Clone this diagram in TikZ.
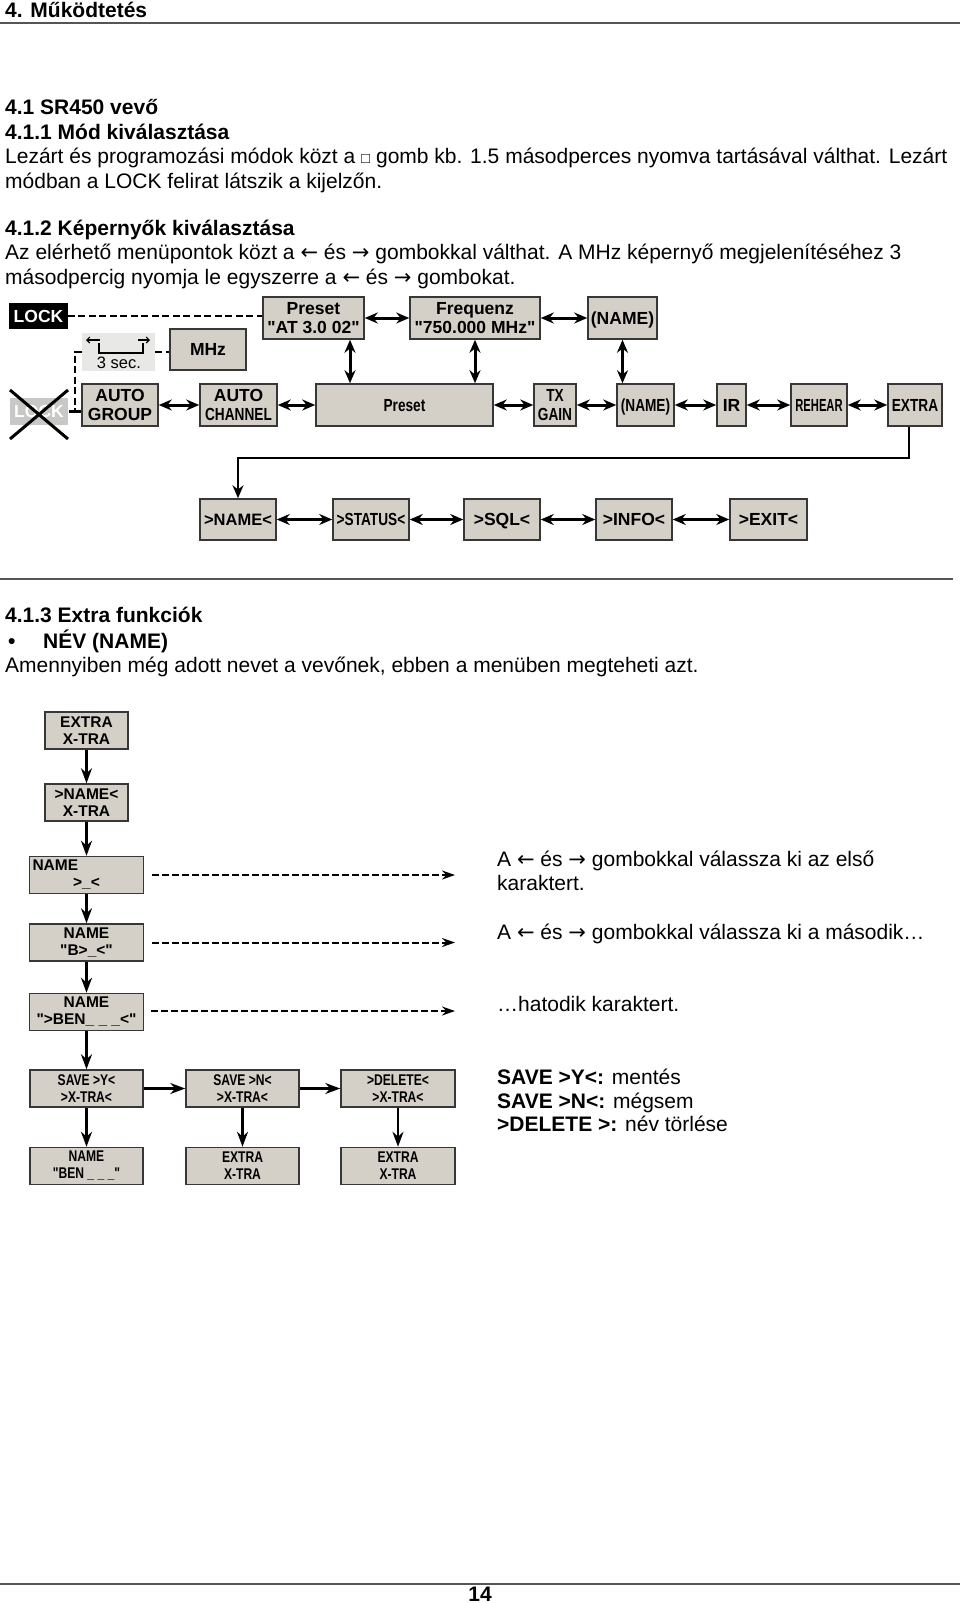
\documentclass[tikz,border=0pt]{standalone}
\usepackage{fontspec}
\setmainfont{Liberation Sans}
\newfontfamily\plainfont{Liberation Sans}
\newfontfamily\narrowfont[FakeStretch=0.78]{Liberation Sans}
\newfontfamily\narrowerfont[FakeStretch=0.64]{Liberation Sans}
\newfontfamily\arrowfont{DejaVu Sans}
\newcommand{\leftkey}{{\arrowfont ←}}
\newcommand{\rightkey}{{\arrowfont →}}
\usetikzlibrary{arrows.meta}
\definecolor{panel}{RGB}{212,208,200}
\definecolor{panelline}{RGB}{55,55,55}
\definecolor{faded}{RGB}{200,200,198}
\definecolor{hint}{RGB}{232,232,230}
\definecolor{rule}{RGB}{85,85,85}

\begin{document}
\begin{tikzpicture}[x=1pt,y=-1pt,>={Stealth[length=13pt,width=11pt]},
                    font=\fontsize{21}{24.5}\selectfont]
  \tikzstyle{txt}=[anchor=base west,inner sep=0pt]
  \tikzstyle{head}=[txt,font=\fontsize{21}{24.5}\selectfont\bfseries]
  \tikzstyle{box}=[rectangle,fill=panel,draw=panelline,line width=1.5pt,
    align=center,inner sep=1pt,font=\plainfont\fontsize{17.5}{19.5}\selectfont\bfseries]
  \tikzstyle{nbox}=[box,font=\narrowfont\fontsize{17.5}{19.5}\selectfont\bfseries]
  \tikzstyle{one}=[text height=12.5pt,text depth=0pt]
  \tikzstyle{sbox}=[box,minimum height=37pt,font=\plainfont\fontsize{15.5}{17}\selectfont\bfseries]
  \tikzstyle{snbox}=[sbox,font=\narrowfont\fontsize{15.5}{17}\selectfont\bfseries]
  \tikzstyle{dbl}=[<->,line width=3pt]
  \tikzstyle{dashline}=[line width=2.2pt,dash pattern=on 7pt off 3.5pt]
  \tikzstyle{flow}=[->,line width=2.2pt,>={Stealth[length=15pt,width=11pt]}]
  \tikzstyle{dflow}=[->,line width=2pt,dash pattern=on 7pt off 3pt,
    >={Stealth[length=13pt,width=9pt]}]

  \fill[white] (0,0) rectangle (960,1603);
  \useasboundingbox (0,0) rectangle (960,1603);

  % page text
  \node[head] (ttl)  at (5,17.5) {4. Működtetés};
  \draw[rule,line width=2pt] (0,23) -- (960,23);
  \node[head] (h41)  at (5,114) {4.1 SR450 vevő};
  \node[head] (h411) at (5,139) {4.1.1 Mód kiválasztása};
  \node[txt]  (p1a)  at (5,163.5) {Lezárt és programozási módok közt a {\fontsize{15}{15}\selectfont □} gomb kb. 1.5 másodperces nyomva tartásával válthat. Lezárt};
  \node[txt]  (p1b)  at (5,188) {módban a LOCK felirat látszik a kijelzőn.};
  \node[head] (h412) at (5,235) {4.1.2 Képernyők kiválasztása};
  \node[txt]  (p2a)  at (5,259.5) {Az elérhető menüpontok közt a \leftkey{} és \rightkey{} gombokkal válthat. A MHz képernyő megjelenítéséhez 3};
  \node[txt]  (p2b)  at (5,284) {másodpercig nyomja le egyszerre a \leftkey{} és \rightkey{} gombokat.};

  % screens
  \node[box,one,fill=black,draw=black,text=white,minimum width=57pt,minimum height=24pt] (lock) at (38.5,316) {LOCK};
  \node[box,minimum width=101pt,minimum height=42pt] (preA)  at (313.5,318) {Preset\\"AT 3.0 02"};
  \node[box,minimum width=130pt,minimum height=42pt] (freq)  at (475,318) {Frequenz\\"750.000 MHz"};
  \node[box,one,minimum width=69pt,minimum height=42pt]  (nameA) at (622.5,318) {(NAME)};
  \node[box,one,minimum width=76pt,minimum height=41pt]  (mhz)   at (208,349.5) {MHz};
  \node[rectangle,fill=hint,minimum width=73pt,minimum height=38pt] (sec3) at (118.5,352) {};
  \node[anchor=base,inner sep=0pt,font=\plainfont\fontsize{16.5}{18}\selectfont] (secl) at (119,368) {3 sec.};
  \draw[line width=1.8pt] (99,343) -- (99,353) -- (143,353) -- (143,343);
  \draw[-{Straight Barb[length=3pt,width=6pt]},line width=1.1pt] (100,340) -- (86,340);
  \draw[-{Straight Barb[length=3pt,width=6pt]},line width=1.1pt] (138,340) -- (150,340);

  \node[box,one,fill=faded,draw=none,text=white,minimum width=58pt,minimum height=27pt] (lockx) at (39,411.5) {LOCK};
  \draw[line width=3pt] (10,390) -- (68,439) (68,390) -- (10,439);

  \node[box,minimum width=76pt,minimum height=42pt]    (agrp)   at (120,405) {AUTO\\GROUP};
  \node[box,minimum width=77pt,minimum height=42pt]    (achn)   at (238.5,405) {AUTO\\{\narrowfont CHANNEL}};
  \node[nbox,one,minimum width=177pt,minimum height=42pt]  (preB)   at (404.5,405) {Preset};
  \node[nbox,minimum width=42pt,minimum height=42pt]   (txg)    at (555,405) {TX\\GAIN};
  \node[nbox,one,minimum width=57pt,minimum height=42pt]   (nameB)  at (645.5,405) {(NAME)};
  \node[box,one,minimum width=29pt,minimum height=42pt]    (ir)     at (731.5,405) {IR};
  \node[nbox,one,font=\narrowerfont\fontsize{17.5}{19.5}\selectfont\bfseries,
        minimum width=56pt,minimum height=42pt]        (rehear) at (819,405) {REHEAR};
  \node[nbox,one,minimum width=54pt,minimum height=42pt]   (extra)  at (915,405) {EXTRA};

  \node[box,one,font=\plainfont\fontsize{16.5}{19.5}\selectfont\bfseries,
        minimum width=76pt,minimum height=41pt] (nmS) at (238,519.5) {>NAME<};
  \node[nbox,one,minimum width=76pt,minimum height=41pt] (stS) at (371,519.5) {>STATUS<};
  \node[box,one,minimum width=76pt,minimum height=41pt]  (sqS) at (502,519.5) {>SQL<};
  \node[box,one,minimum width=76pt,minimum height=41pt]  (inS) at (634,519.5) {>INFO<};
  \node[box,one,minimum width=77pt,minimum height=41pt]  (exS) at (768.5,519.5) {>EXIT<};

  \coordinate (jn) at (75,411);
  \coordinate (bend) at (238,458);

  \draw[dashline] (lock.east) -- (lock.east -| preA.west);
  \draw[dashline] (sec3.east) -- (sec3.east -| mhz.west);
  \draw[dashline] (sec3.west) -| (jn);
  \draw[line width=2.2pt] (lockx.east) -- (lockx.east -| agrp.west);
  \draw[dbl] (preA) edge (freq)
             (freq) edge (nameA);
  \draw[dbl] (agrp) edge (achn)
             (achn) edge (preB)
             (preB) edge (txg)
             (txg) edge (nameB)
             (nameB) edge (ir)
             (ir) edge (rehear)
             (rehear) edge (extra);
  \draw[dbl] ([xshift=36.5pt]preA.south) -- ([xshift=36.5pt]preA.south |- preB.north);
  \draw[dbl] (freq.south) -- (freq.south |- preB.north);
  \draw[dbl] (nameA.south) -- (nameA.south |- nameB.north);
  \draw[->,line width=2.5pt] ([xshift=-6pt]extra.south) |- (bend) -- (nmS.north);
  \draw[dbl] (nmS) edge (stS)
             (stS) edge (sqS)
             (sqS) edge (inS)
             (inS) edge (exS);

  % extra functions
  \draw[rule,line width=1.6pt] (0,579) -- (953,579);
  \node[head] (h413) at (5,622.5) {4.1.3 Extra funkciók};
  \node[head] (bul)  at (8,648) {•};
  \node[head] (nev)  at (43,648) {NÉV (NAME)};
  \node[txt]  (p3)   at (5,672.5) {Amennyiben még adott nevet a vevőnek, ebben a menüben megteheti azt.};

  \node[sbox,minimum width=83pt]  (e1) at (86.5,730.5) {EXTRA\\X-TRA};
  \node[sbox,minimum width=83pt]  (e2) at (86.5,802.5) {>NAME<\\X-TRA};
  \node[sbox,minimum width=114pt] (n1) at (86.5,875) {\makebox[108pt][l]{NAME}\\>\_<};
  \node[sbox,minimum width=114pt] (n2) at (86.5,942.5) {NAME\\"B>\_<"};
  \node[sbox,minimum width=114pt] (n3) at (86.5,1012) {NAME\\">BEN\_ \_ \_<"};
  \node[snbox,minimum width=113pt] (s1) at (86.5,1088.5) {SAVE >Y<\\>X-TRA<};
  \node[snbox,minimum width=113pt] (s2) at (242.5,1088.5) {SAVE >N<\\>X-TRA<};
  \node[snbox,minimum width=114pt] (s3) at (398,1088.5) {>DELETE<\\>X-TRA<};
  \node[snbox,minimum width=113pt] (b1) at (86.5,1166) {NAME\\"BEN \_ \_ \_"};
  \node[snbox,minimum width=113pt] (b2) at (242.5,1166) {EXTRA\\X-TRA};
  \node[snbox,minimum width=114pt] (b3) at (398,1166) {EXTRA\\X-TRA};

  \coordinate (c1) at (455,875);
  \coordinate (c2) at (455,942.5);
  \coordinate (c3) at (455,1011);

  \draw[flow] (e1) -- (e2);
  \draw[flow] (e2) -- (n1);
  \draw[flow] (n1) -- (n2);
  \draw[flow] (n2) -- (n3);
  \draw[flow] (n3) -- (s1);
  \draw[flow] (s1) -- (s2);
  \draw[flow] (s2) -- (s3);
  \draw[flow] (s1) -- (b1);
  \draw[flow] (s2) -- (b2);
  \draw[flow] (s3) -- (b3);
  \draw[dflow] ([xshift=8pt]n1.east) -- (c1);
  \draw[dflow] ([xshift=8pt]n2.east) -- (c2);
  \draw[dflow] ([xshift=7pt]n3.east |- c3) -- (c3);

  \node[txt] (r1) at (497,866) {A \leftkey{} és \rightkey{} gombokkal válassza ki az első};
  \node[txt] (r2) at (497,890) {karaktert.};
  \node[txt] (r3) at (497,939) {A \leftkey{} és \rightkey{} gombokkal válassza ki a második…};
  \node[txt] (r4) at (497,1011) {…hatodik karaktert.};
  \node[txt] (r5) at (497,1084) {\textbf{SAVE >Y<:} mentés};
  \node[txt] (r6) at (497,1108) {\textbf{SAVE >N<:} mégsem};
  \node[txt] (r7) at (497,1131) {\textbf{>DELETE >:} név törlése};

  % footer
  \draw[rule,line width=2pt] (0,1584) -- (960,1584);
  \node[head,anchor=base] (pg) at (480,1601) {14};
\end{tikzpicture}
\end{document}
